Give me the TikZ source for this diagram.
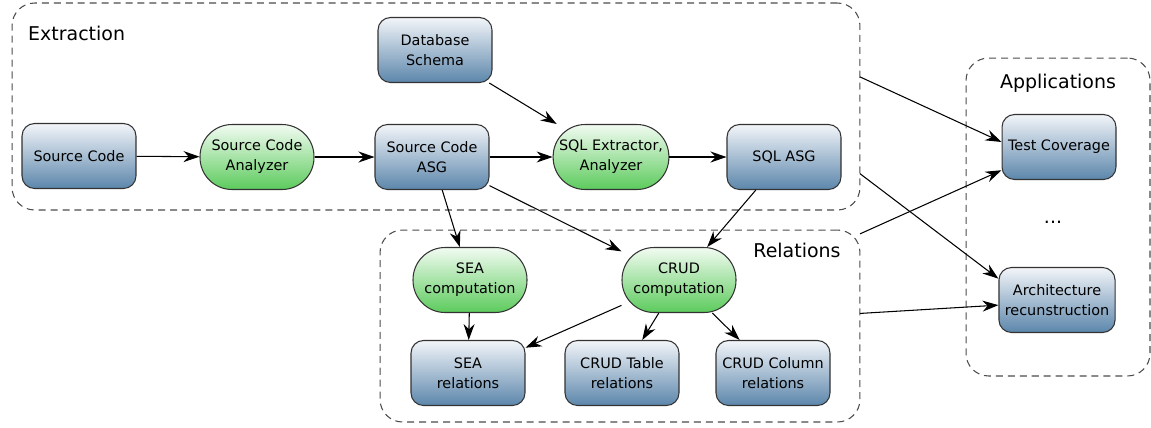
\documentclass[tikz,border=0pt]{standalone}
\usepackage{fontspec}
\setmainfont{DejaVu Sans}
\usepackage{tikz}
\usetikzlibrary{arrows.meta}

\definecolor{boxtop}{HTML}{F2F5F9}
\definecolor{boxbot}{HTML}{5C86AB}
\definecolor{proctop}{HTML}{F2FBF2}
\definecolor{procbot}{HTML}{5CCB5C}

\tikzset{
  artifact/.style={draw=black!80, line width=0.6pt, rounded corners=0.25cm,
    top color=boxtop, bottom color=boxbot, minimum width=2.28cm,
    minimum height=1.3cm, align=center, font=\fontsize{8.2}{11.4}\selectfont},
  process/.style={artifact, rounded corners=0.64cm, top color=proctop, bottom color=procbot},
  group/.style={draw=black!70, dash pattern=on 4pt off 2.8pt, rounded corners=0.45cm,
    line width=0.6pt, outer sep=0pt},
  grouplabel/.style={font=\fontsize{10.8}{12}\selectfont},
  flow/.style={-{Stealth[length=0.32cm,width=0.22cm]}, line width=0.6pt},
}

\begin{document}
\begin{tikzpicture}[x=0.02cm, y=-0.02cm]
\useasboundingbox (0,0) rectangle (1151,427);
%%% Draws groups
\node[group, minimum width=16.96cm, minimum height=4.14cm] (extraction) at (436,106.5) {};
\node[group, minimum width=9.6cm, minimum height=3.84cm] (relations) at (620,326) {};
\node[group, minimum width=3.68cm, minimum height=6.36cm] (applications) at (1058,217) {};
% labels groups
\node[grouplabel, anchor=west] (extrlabel) at (22,33) {Extraction};
\node[grouplabel] (rellabel) at (797,250) {Relations};
\node[grouplabel] (applabel) at (1058,83) {Applications};
%%% Draws extraction
% draws nodes
\node[artifact] (src) at (79,156) {Source Code};
\node[process] (srcanal) at (257,157) {Source Code\\Analyzer};
\node[artifact] (srcasg) at (432,157) {Source Code\\ASG};
\node[artifact] (dbschema) at (435,50) {Database\\Schema};
\node[process] (sqlext) at (611,157) {SQL Extractor,\\Analyzer};
\node[artifact] (sqlasg) at (784,157) {SQL ASG};
% draws edges
\draw[flow] (src) -- (srcanal);
\draw[flow] (srcanal) -- (srcasg);
\draw[flow] (srcasg) -- (sqlext);
\draw[flow] (dbschema) -- (sqlext);
\draw[flow] (sqlext) -- (sqlasg);
%%% Draws relations
% draws nodes
\node[process] (seacomp) at (470,280) {SEA\\computation};
\node[process] (crudcomp) at (679,280) {CRUD\\computation};
\node[artifact] (searel) at (468,373) {SEA\\relations};
\node[artifact] (crudtab) at (622,373) {CRUD Table\\relations};
\node[artifact] (crudcol) at (773,373) {CRUD Column\\relations};
% draws edges
\draw[flow] (srcasg) -- (seacomp);
\draw[flow] (srcasg) -- (crudcomp);
\draw[flow] (sqlasg) -- (crudcomp);
\draw[flow] (seacomp) -- (searel);
\draw[flow] (crudcomp) -- (searel);
\draw[flow] (crudcomp) -- (crudtab);
\draw[flow] (crudcomp) -- (crudcol);
%%% Draws applications
% draws nodes
\node[artifact] (testcov) at (1059,147) {Test Coverage};
\node[artifact] (archrec) at (1057,300) {Architecture\\recunstruction};
\node[grouplabel] (dots) at (1053,222) {...};
% draws edges
\draw[flow] (extraction.4) -- (testcov.175);
\draw[flow] (extraction.-9) -- (archrec.160);
\draw[flow] (relations.21) -- (testcov.202);
\draw[flow] (relations.3) -- (archrec.185);
\end{tikzpicture}
\end{document}
